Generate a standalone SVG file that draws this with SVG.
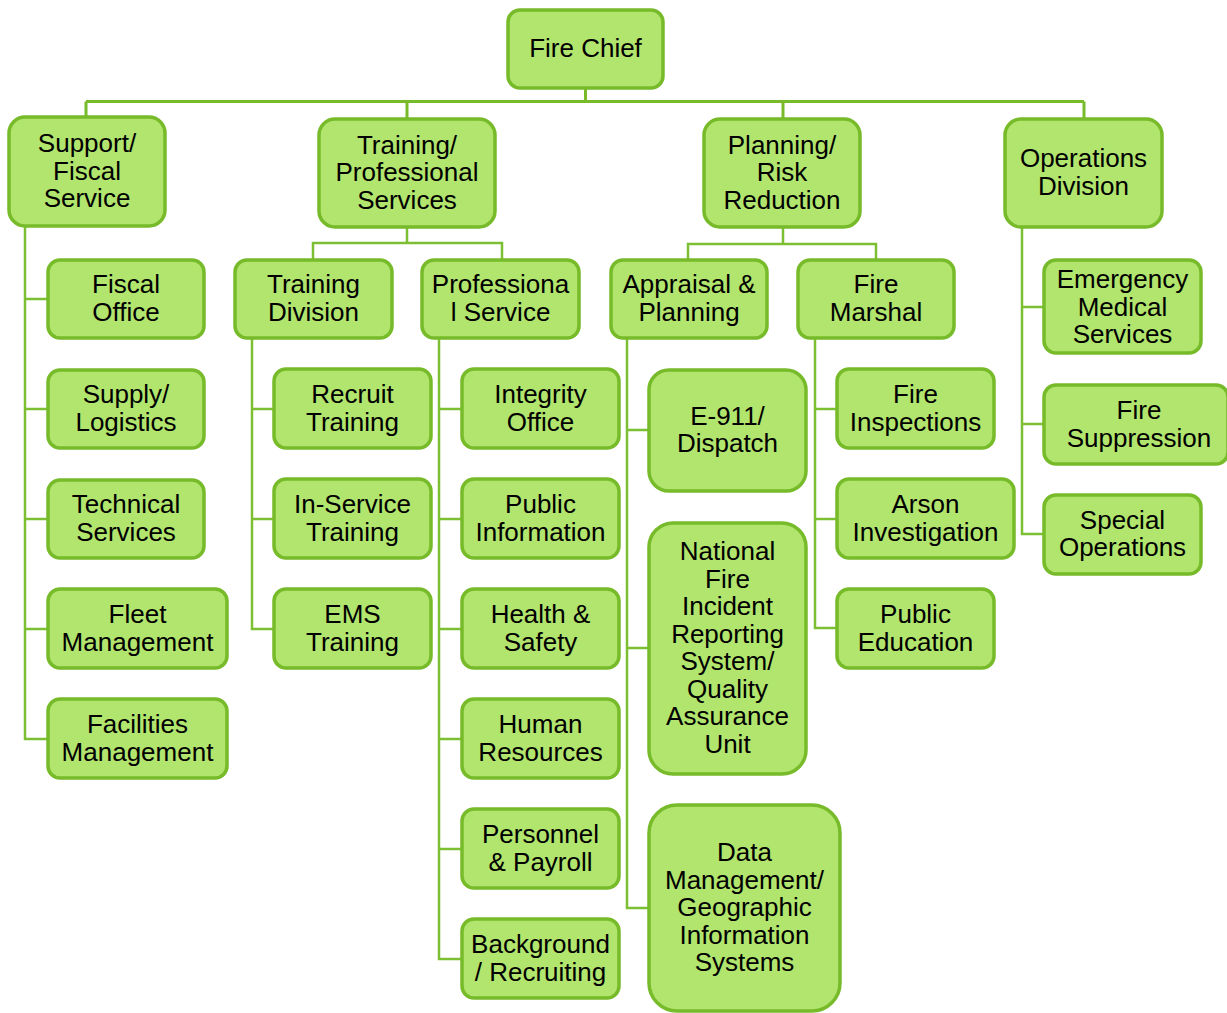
<svg xmlns="http://www.w3.org/2000/svg" width="1227" height="1013" viewBox="0 0 1227 1013">
<style>
.box{fill:#b1e56d;stroke:#77bb2a;stroke-width:3.5}
.lbl{font-family:"Liberation Sans",Arial,sans-serif;font-size:26px;fill:#000;text-anchor:middle}
.con{fill:none;stroke:#7dbf32;stroke-width:2.5}
.bus{fill:none;stroke:#77bb2a;stroke-width:3}
</style>
<rect width="1227" height="1013" fill="#fff"/>
<g id="connectors">
<path class="bus" d="M585.5,88 V101.5 M86,101.5 H1084 M86,101.5 V117 M407,101.5 V119 M783,101.5 V119 M1084,101.5 V119"/>
<path class="con" d="M407,227 V243 M313,260 V243 H502 V260"/>
<path class="con" d="M783,227 V244 M688,260 V244 H876 V260"/>
<path class="con" d="M25,226 V739 H48 M25,299 H48 M25,409 H48 M25,519 H48 M25,629 H48"/>
<path class="con" d="M252,338 V629 H274 M252,409 H274 M252,519 H274"/>
<path class="con" d="M439,338 V959 H462 M439,409 H462 M439,519 H462 M439,629 H462 M439,739 H462 M439,849 H462"/>
<path class="con" d="M627,338 V908 H649 M627,430 H649 M627,648 H649"/>
<path class="con" d="M815,338 V628 H837 M815,409 H837 M815,519 H837"/>
<path class="con" d="M1022,227 V534 H1044 M1022,307 H1044 M1022,424 H1044"/>
</g>
<g id="fire-chief"><rect class="box" x="508" y="10" width="155" height="78" rx="12"/><text class="lbl" x="585.5" y="57">Fire Chief</text></g>
<g id="support-fiscal"><rect class="box" x="9" y="117" width="156" height="109" rx="16"/><text class="lbl"><tspan x="87" y="152">Support/</tspan><tspan x="87" y="179.5">Fiscal</tspan><tspan x="87" y="207">Service</tspan></text></g>
<g id="training-professional"><rect class="box" x="319" y="119" width="176" height="108" rx="16"/><text class="lbl"><tspan x="407" y="153.5">Training/</tspan><tspan x="407" y="181">Professional</tspan><tspan x="407" y="208.5">Services</tspan></text></g>
<g id="planning-risk"><rect class="box" x="704" y="119" width="156" height="108" rx="16"/><text class="lbl"><tspan x="782" y="153.5">Planning/</tspan><tspan x="782" y="181">Risk</tspan><tspan x="782" y="208.5">Reduction</tspan></text></g>
<g id="operations"><rect class="box" x="1005" y="119" width="157" height="108" rx="16"/><text class="lbl"><tspan x="1083.5" y="167.25">Operations</tspan><tspan x="1083.5" y="194.75">Division</tspan></text></g>
<g id="training-division"><rect class="box" x="235" y="260" width="157" height="78" rx="12"/><text class="lbl"><tspan x="313.5" y="293.25">Training</tspan><tspan x="313.5" y="320.75">Division</tspan></text></g>
<g id="professional-service"><rect class="box" x="422" y="260" width="157" height="78" rx="12"/><text class="lbl"><tspan x="500.5" y="293.25">Professiona</tspan><tspan x="500.5" y="320.75">l Service</tspan></text></g>
<g id="appraisal-planning"><rect class="box" x="611" y="260" width="156" height="78" rx="12"/><text class="lbl"><tspan x="689" y="293.25">Appraisal &amp;</tspan><tspan x="689" y="320.75">Planning</tspan></text></g>
<g id="fire-marshal"><rect class="box" x="798" y="260" width="156" height="78" rx="12"/><text class="lbl"><tspan x="876" y="293.25">Fire</tspan><tspan x="876" y="320.75">Marshal</tspan></text></g>
<g id="fiscal-office"><rect class="box" x="48" y="260" width="156" height="78" rx="12"/><text class="lbl"><tspan x="126" y="293.25">Fiscal</tspan><tspan x="126" y="320.75">Office</tspan></text></g>
<g id="supply-logistics"><rect class="box" x="48" y="370" width="156" height="78" rx="12"/><text class="lbl"><tspan x="126" y="403.25">Supply/</tspan><tspan x="126" y="430.75">Logistics</tspan></text></g>
<g id="technical-services"><rect class="box" x="48" y="480" width="156" height="78" rx="12"/><text class="lbl"><tspan x="126" y="513.25">Technical</tspan><tspan x="126" y="540.75">Services</tspan></text></g>
<g id="fleet-management"><rect class="box" x="48" y="589" width="179" height="79" rx="12"/><text class="lbl"><tspan x="137.5" y="623">Fleet</tspan><tspan x="137.5" y="650.5">Management</tspan></text></g>
<g id="facilities-management"><rect class="box" x="48" y="699" width="179" height="79" rx="12"/><text class="lbl"><tspan x="137.5" y="733">Facilities</tspan><tspan x="137.5" y="760.5">Management</tspan></text></g>
<g id="recruit-training"><rect class="box" x="274" y="369" width="157" height="79" rx="12"/><text class="lbl"><tspan x="352.5" y="403.25">Recruit</tspan><tspan x="352.5" y="430.75">Training</tspan></text></g>
<g id="in-service-training"><rect class="box" x="274" y="479" width="157" height="79" rx="12"/><text class="lbl"><tspan x="352.5" y="513.25">In-Service</tspan><tspan x="352.5" y="540.75">Training</tspan></text></g>
<g id="ems-training"><rect class="box" x="274" y="589" width="157" height="79" rx="12"/><text class="lbl"><tspan x="352.5" y="623">EMS</tspan><tspan x="352.5" y="650.5">Training</tspan></text></g>
<g id="integrity-office"><rect class="box" x="462" y="369" width="157" height="79" rx="12"/><text class="lbl"><tspan x="540.5" y="403.25">Integrity</tspan><tspan x="540.5" y="430.75">Office</tspan></text></g>
<g id="public-information"><rect class="box" x="462" y="479" width="157" height="79" rx="12"/><text class="lbl"><tspan x="540.5" y="513.25">Public</tspan><tspan x="540.5" y="540.75">Information</tspan></text></g>
<g id="health-safety"><rect class="box" x="462" y="589" width="157" height="79" rx="12"/><text class="lbl"><tspan x="540.5" y="623">Health &amp;</tspan><tspan x="540.5" y="650.5">Safety</tspan></text></g>
<g id="human-resources"><rect class="box" x="462" y="699" width="157" height="79" rx="12"/><text class="lbl"><tspan x="540.5" y="733">Human</tspan><tspan x="540.5" y="760.5">Resources</tspan></text></g>
<g id="personnel-payroll"><rect class="box" x="462" y="809" width="157" height="79" rx="12"/><text class="lbl"><tspan x="540.5" y="843">Personnel</tspan><tspan x="540.5" y="870.5">&amp; Payroll</tspan></text></g>
<g id="background-recruiting"><rect class="box" x="462" y="919" width="157" height="79" rx="12"/><text class="lbl"><tspan x="540.5" y="953">Background</tspan><tspan x="540.5" y="980.5">/ Recruiting</tspan></text></g>
<g id="e911-dispatch"><rect class="box" x="649" y="370" width="157" height="121" rx="20"/><text class="lbl"><tspan x="727.5" y="424.75">E-911/</tspan><tspan x="727.5" y="452.25">Dispatch</tspan></text></g>
<g id="nfirs-qa"><rect class="box" x="649" y="523" width="157" height="251" rx="24"/><text class="lbl"><tspan x="727.5" y="560.25">National</tspan><tspan x="727.5" y="587.75">Fire</tspan><tspan x="727.5" y="615.25">Incident</tspan><tspan x="727.5" y="642.75">Reporting</tspan><tspan x="727.5" y="670.25">System/</tspan><tspan x="727.5" y="697.75">Quality</tspan><tspan x="727.5" y="725.25">Assurance</tspan><tspan x="727.5" y="752.75">Unit</tspan></text></g>
<g id="data-management-gis"><rect class="box" x="649" y="805" width="191" height="206" rx="28"/><text class="lbl"><tspan x="744.5" y="861">Data</tspan><tspan x="744.5" y="888.5">Management/</tspan><tspan x="744.5" y="916">Geographic</tspan><tspan x="744.5" y="943.5">Information</tspan><tspan x="744.5" y="971">Systems</tspan></text></g>
<g id="fire-inspections"><rect class="box" x="837" y="369" width="157" height="79" rx="12"/><text class="lbl"><tspan x="915.5" y="403.25">Fire</tspan><tspan x="915.5" y="430.75">Inspections</tspan></text></g>
<g id="arson-investigation"><rect class="box" x="837" y="479" width="177" height="79" rx="12"/><text class="lbl"><tspan x="925.5" y="513.25">Arson</tspan><tspan x="925.5" y="540.75">Investigation</tspan></text></g>
<g id="public-education"><rect class="box" x="837" y="589" width="157" height="79" rx="12"/><text class="lbl"><tspan x="915.5" y="623">Public</tspan><tspan x="915.5" y="650.5">Education</tspan></text></g>
<g id="emergency-medical-services"><rect class="box" x="1044" y="260" width="157" height="93" rx="12"/><text class="lbl"><tspan x="1122.5" y="288">Emergency</tspan><tspan x="1122.5" y="315.5">Medical</tspan><tspan x="1122.5" y="343">Services</tspan></text></g>
<g id="fire-suppression"><rect class="box" x="1044" y="385" width="184" height="79" rx="12"/><text class="lbl"><tspan x="1139" y="419">Fire</tspan><tspan x="1139" y="446.5">Suppression</tspan></text></g>
<g id="special-operations"><rect class="box" x="1044" y="495" width="157" height="79" rx="12"/><text class="lbl"><tspan x="1122.5" y="528.5">Special</tspan><tspan x="1122.5" y="556">Operations</tspan></text></g>
</svg>
